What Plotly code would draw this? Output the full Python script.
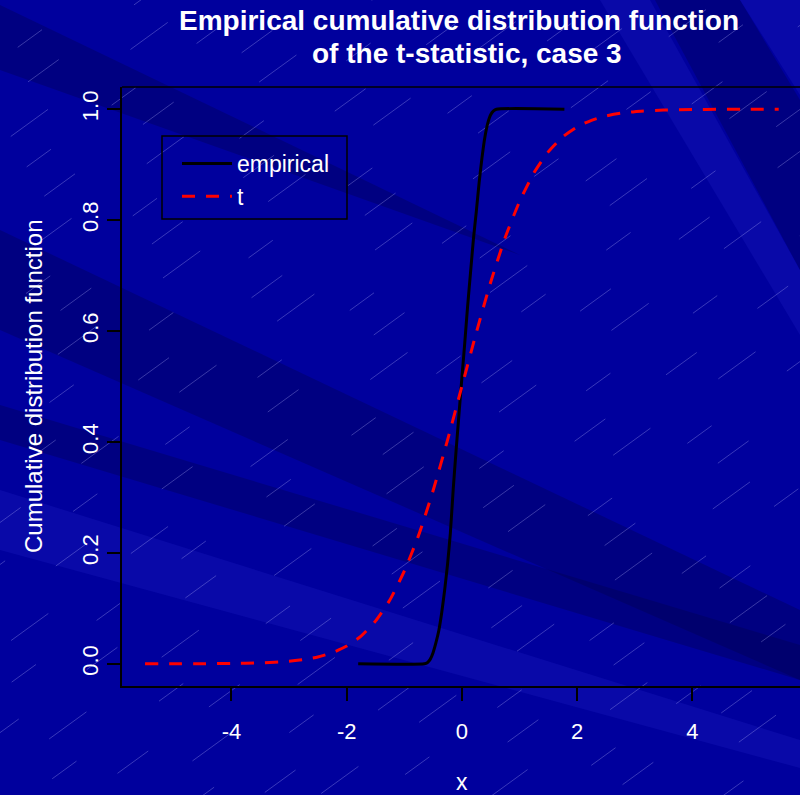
import math
import plotly.graph_objects as go

# ---------------- data ----------------
emp_x = [-1.80, -0.65, -0.60, -0.55, -0.50, -0.45, -0.40, -0.35, -0.30, -0.25,
         -0.20, -0.15, -0.10, -0.05, 0.00, 0.05, 0.10, 0.15, 0.20, 0.25,
         0.30, 0.35, 0.40, 0.45, 0.50, 0.55, 0.60, 1.78]
emp_y = [0.000, 0.000, 0.002, 0.008, 0.020, 0.038, 0.060, 0.092, 0.132, 0.178,
         0.235, 0.315, 0.385, 0.450, 0.515, 0.578, 0.645, 0.705, 0.765, 0.815,
         0.868, 0.913, 0.950, 0.975, 0.990, 0.997, 1.000, 1.000]

t_x = [-5.5, -5.0, -4.5, -4.0, -3.5, -3.0, -2.75, -2.5, -2.25, -2.0, -1.75, -1.5,
       -1.25, -1.0, -0.75, -0.5, -0.25, 0.0, 0.25, 0.5, 0.75, 1.0, 1.25, 1.5,
       1.75, 2.0, 2.25, 2.5, 2.75, 3.0, 3.5, 4.0, 4.5, 5.0, 5.5]
t_y = [0.00003, 0.00008, 0.0002, 0.0006, 0.0016, 0.0045, 0.0075, 0.0123, 0.020,
       0.032, 0.050, 0.077, 0.115, 0.167, 0.232, 0.312, 0.403, 0.500, 0.597,
       0.688, 0.768, 0.833, 0.885, 0.923, 0.950, 0.968, 0.980, 0.9877, 0.9925,
       0.9955, 0.9984, 0.9994, 0.9998, 0.99992, 0.99997]

x_ticks = [-4, -2, 0, 2, 4]
x_ticktext = ["-4", "-2", "0", "2", "4"]
y_ticks = [0.0, 0.2, 0.4, 0.6, 0.8, 1.0]
y_ticktext = ["0.0", "0.2", "0.4", "0.6", "0.8", "1.0"]

title_lines = ["Empirical cumulative distribution function",
               "of the t-statistic, case 3"]
xlabel = "x"
ylabel = "Cumulative distribution function"
legend_names = ["empirical", "t"]

# ---------------- layout geometry ----------------
W, H = 800, 795
L, R, T, B = 122, 800, 87, 686   # plot area in pixels


def px(xp):
    return (xp - L) / (R - L)


def py(yp):
    return (B - yp) / (B - T)


FONT = "Liberation Sans, Arial, sans-serif"
BASE = "#00009d"
DARK = "rgba(0,0,70,0.32)"
LIGHT = "rgba(40,40,210,0.22)"

shapes = []


def poly(points, color):
    path = "M " + " L ".join(f"{px(a):.4f},{py(b):.4f}" for a, b in points) + " Z"
    shapes.append(dict(type="path", xref="paper", yref="paper", path=path,
                       fillcolor=color, line=dict(width=0), layer="below"))


# decorative background bands
poly([(0, 5), (520, 255), (0, 70)], DARK)
poly([(0, 230), (800, 610), (800, 680), (0, 330)], DARK)
poly([(0, 405), (800, 645), (800, 680), (0, 440)], DARK)
poly([(0, 490), (800, 740), (800, 768), (0, 550)], LIGHT)
poly([(600, 0), (650, 0), (800, 270), (800, 335)], LIGHT)
poly([(655, 0), (740, 0), (800, 100), (800, 270)], DARK)
poly([(740, 0), (800, 0), (800, 95)], LIGHT)

# decorative thin diagonal hatching
ang = math.radians(36)
dx, dy = math.cos(ang), -math.sin(ang)
nx, ny = math.sin(ang), math.cos(ang)
cx, cy = 400, 400
for k in range(-18, 19):
    off = k * 34
    ox, oy = cx + nx * off, cy + ny * off
    x0, y0 = ox - dx * 900, oy - dy * 900
    x1, y1 = ox + dx * 900, oy + dy * 900
    shapes.append(dict(type="line", xref="paper", yref="paper",
                       x0=px(x0), y0=py(y0), x1=px(x1), y1=py(y1),
                       line=dict(color="rgba(190,190,255,0.38)", width=0.8,
                                 dash=f"{30 + (k % 3) * 8}px,{75 + (k % 4) * 9}px"),
                       layer="below"))

# top frame line and legend box
shapes.append(dict(type="line", xref="paper", yref="paper", x0=0, x1=1, y0=1, y1=1,
                   line=dict(color="black", width=1.5)))
shapes.append(dict(type="rect", xref="paper", yref="paper",
                   x0=px(162), x1=px(347), y0=py(219), y1=py(136),
                   line=dict(color="black", width=1.5)))

fig = go.Figure()
fig.add_trace(go.Scatter(x=emp_x, y=emp_y, mode="lines", name=legend_names[0],
                         line=dict(color="black", width=3, shape="spline", smoothing=0.6)))
fig.add_trace(go.Scatter(x=t_x, y=t_y, mode="lines", name=legend_names[1],
                         line=dict(color="#ff0000", width=3, dash="13px,11px",
                                   shape="spline", smoothing=0.6)))

annotations = [
    dict(text=f"<b>{title_lines[0]}</b>", xref="paper", yref="paper", x=px(459), y=py(20),
         showarrow=False, xanchor="center", yanchor="middle",
         font=dict(color="white", size=28, family=FONT)),
    dict(text=f"<b>{title_lines[1]}</b>", xref="paper", yref="paper", x=px(467), y=py(53),
         showarrow=False, xanchor="center", yanchor="middle",
         font=dict(color="white", size=28, family=FONT)),
    dict(text=xlabel, xref="paper", yref="paper", x=px(462), y=py(782),
         showarrow=False, xanchor="center", yanchor="middle",
         font=dict(color="white", size=23, family=FONT)),
    dict(text=ylabel, xref="paper", yref="paper", x=px(33), y=py(386),
         showarrow=False, xanchor="center", yanchor="middle", textangle=-90,
         font=dict(color="white", size=24, family=FONT)),
]

fig.update_layout(
    width=W, height=H,
    margin=dict(l=L, r=W - R, t=T, b=H - B),
    paper_bgcolor=BASE, plot_bgcolor="rgba(0,0,0,0)",
    shapes=shapes, annotations=annotations,
    showlegend=True,
    legend=dict(x=px(177), y=py(142), xanchor="left", yanchor="top",
                bgcolor="rgba(0,0,0,0)", borderwidth=0,
                font=dict(color="white", size=23, family=FONT),
                itemwidth=50, tracegroupgap=0),
    xaxis=dict(range=[-5.9, 5.87], tickvals=x_ticks, ticktext=x_ticktext,
               showgrid=False, zeroline=False,
               showline=True, linecolor="black", linewidth=1.5,
               ticks="outside", ticklen=13, tickwidth=1.5, tickcolor="black",
               tickfont=dict(color="white", size=22, family=FONT),
               ticklabelstandoff=12),
    yaxis=dict(range=[-0.04, 1.04], tickvals=y_ticks, ticktext=y_ticktext,
               showgrid=False, zeroline=False,
               showline=True, linecolor="black", linewidth=1.5,
               ticks="outside", ticklen=13, tickwidth=1.5, tickcolor="black",
               tickangle=-90,
               tickfont=dict(color="white", size=22, family=FONT)),
)

fig.write_html("out.html", post_script="document.body.style.margin='0';",
               config={"displayModeBar": False})
